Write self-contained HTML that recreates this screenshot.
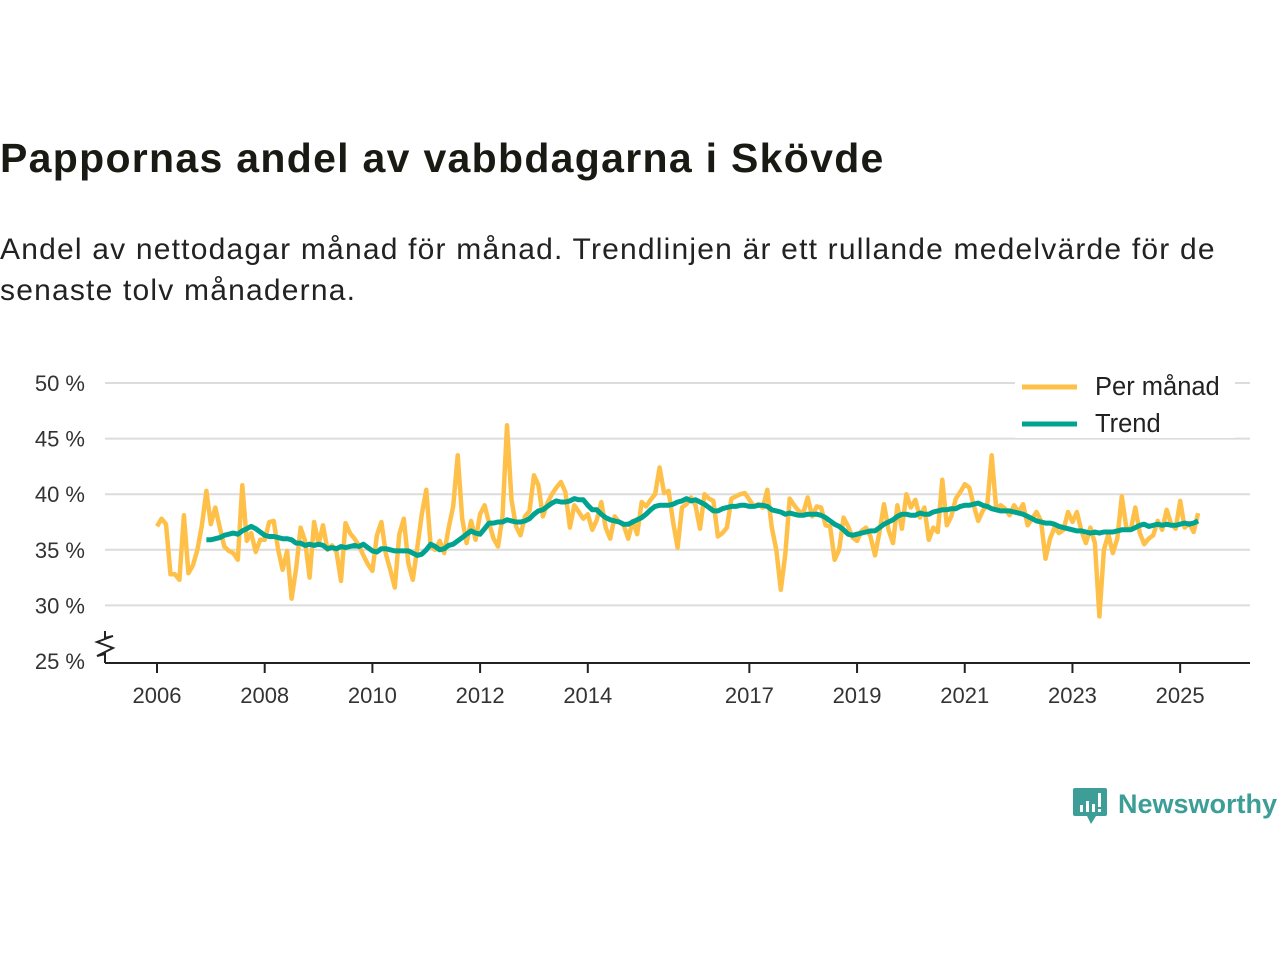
<!DOCTYPE html>
<html><head><meta charset="utf-8"><style>
body{margin:0;width:1280px;height:960px;background:#fff;font-family:"Liberation Sans",sans-serif;position:relative;overflow:hidden}
#title{position:absolute;left:0;top:135px;font-size:41px;letter-spacing:1.3px;font-weight:bold;color:#1a1a14;margin:0}
#sub{position:absolute;left:0;top:229px;font-size:30px;letter-spacing:1.2px;color:#222;line-height:41px;width:1250px}
svg{position:absolute;left:0;top:0}
</style></head><body>
<h1 id="title">Pappornas andel av vabbdagarna i Skövde</h1>
<div id="sub">Andel av nettodagar månad för månad. Trendlinjen är ett rullande medelvärde för de senaste tolv månaderna.</div>
<svg id="chart" width="1280" height="960"></svg>
<script>
const yTicks=[25,30,35,40,45,50];
const xTickYears=[2006,2008,2010,2012,2014,2017,2019,2021,2023,2025];
const monthly=[
37.1,37.8,37.3,32.8,32.8,32.3,38.1,32.9,33.6,35.0,37.2,40.3,
37.3,38.8,37.0,35.3,34.9,34.7,34.1,40.8,35.8,36.5,34.8,35.9,
35.9,37.5,37.6,35.0,33.2,34.9,30.6,33.3,37.0,35.8,32.5,37.5,
35.5,37.2,35.0,35.4,34.8,32.2,37.4,36.5,36.0,35.4,34.5,33.7,
33.1,36.3,37.5,34.6,33.2,31.6,36.4,37.8,33.8,32.3,35.2,38.2,
40.4,35.3,35.0,35.8,34.7,37.0,38.9,43.5,37.8,35.6,37.6,35.9,
38.2,39.0,37.4,36.0,35.3,38.0,46.2,39.5,37.1,36.3,38.0,38.5,
41.7,40.8,38.0,39.2,40.0,40.6,41.1,40.2,37.0,39.0,38.4,37.8,
38.2,36.8,37.7,39.3,37.0,36.0,38.0,37.5,37.2,36.0,37.6,36.4,
39.3,38.9,39.5,40.0,42.4,40.1,40.3,37.5,35.2,38.8,39.1,39.7,
39.0,36.9,40.0,39.6,39.4,36.2,36.5,37.0,39.6,39.8,40.0,40.1,
39.5,38.9,39.1,38.8,40.4,37.0,35.0,31.4,34.6,39.6,39.0,38.5,
38.3,39.7,38.0,38.9,38.8,37.2,37.1,34.1,35.0,37.9,37.1,36.1,
35.8,36.7,37.0,36.2,34.5,36.6,39.1,36.8,35.6,39.0,36.9,40.0,
38.8,39.5,37.9,38.8,35.9,37.0,36.6,41.3,37.2,38.0,39.6,40.2,
40.9,40.6,39.0,37.6,38.5,39.0,43.5,38.7,39.0,38.7,38.1,39.0,
38.4,39.1,37.2,37.8,38.4,37.6,34.2,36.0,37.0,36.5,36.8,38.4,
37.5,38.4,36.7,35.6,37.0,35.6,29.0,35.0,36.4,34.7,36.0,39.8,
37.0,36.8,38.8,36.5,35.5,36.0,36.3,37.6,36.8,38.6,37.3,36.9,
39.4,37.0,37.4,36.6,38.3];
const trendStartMonth=11; // months after 2006-01
const trend=[35.9,
35.9,36.0,36.1,36.3,36.4,36.5,36.4,36.7,36.9,37.1,36.9,36.6,
36.3,36.2,36.2,36.1,36.0,36.0,35.9,35.6,35.6,35.4,35.5,35.4,
35.5,35.4,35.1,35.2,35.1,35.3,35.2,35.3,35.4,35.3,35.5,35.2,
34.9,34.8,35.1,35.1,35.0,34.9,34.9,34.9,34.9,34.7,34.5,34.6,
35.0,35.5,35.3,35.0,35.1,35.4,35.5,35.8,36.1,36.4,36.7,36.5,
36.4,36.9,37.4,37.4,37.5,37.5,37.7,37.6,37.5,37.5,37.6,37.8,
38.2,38.5,38.6,38.9,39.2,39.4,39.3,39.3,39.4,39.6,39.5,39.5,
39.0,38.6,38.6,38.2,37.9,37.7,37.6,37.5,37.3,37.3,37.5,37.7,
37.9,38.2,38.6,38.9,39.0,39.0,39.0,39.1,39.3,39.4,39.6,39.4,
39.5,39.3,39.1,38.8,38.5,38.5,38.7,38.8,38.9,38.9,39.0,39.0,
38.9,38.9,39.0,39.0,38.9,38.6,38.5,38.4,38.2,38.3,38.2,38.1,
38.1,38.2,38.2,38.2,38.1,37.9,37.6,37.3,37.1,36.8,36.4,36.3,
36.4,36.5,36.6,36.7,36.7,37.0,37.3,37.5,37.7,38.0,38.2,38.2,
38.1,38.1,38.3,38.2,38.2,38.4,38.5,38.6,38.6,38.7,38.7,38.9,
39.0,39.0,39.1,39.2,39.0,38.9,38.7,38.6,38.5,38.5,38.5,38.4,
38.3,38.2,38.0,37.8,37.6,37.5,37.4,37.4,37.3,37.1,37.0,36.9,
36.8,36.7,36.7,36.6,36.5,36.6,36.5,36.6,36.6,36.6,36.7,36.8,
36.8,36.8,37.0,37.2,37.3,37.1,37.2,37.3,37.2,37.3,37.2,37.2,
37.3,37.4,37.3,37.4,37.6];

const NS='http://www.w3.org/2000/svg';
const svg=document.getElementById('chart');
const xs=t=>157+(t-2006)*53.85;
const ys=v=>661-(v-25)*11.12;
function mk(tag,attrs,parent){const e=document.createElementNS(NS,tag);for(const k in attrs)e.setAttribute(k,attrs[k]);(parent||svg).appendChild(e);return e;}

yTicks.forEach(v=>{
  if(v>25){const g=mk('line',{x1:105,x2:1250,y1:ys(v),y2:ys(v),stroke:'#dcdcdc','stroke-width':2});
  
  }
  const t=mk('text',{x:85,y:ys(v)+8,'text-anchor':'end','font-size':22,fill:'#333','font-family':'Liberation Sans, sans-serif'});
  t.textContent=v+' %';
  
  
});
const ax=mk('line',{x1:105,x2:1250,y1:663,y2:663,stroke:'#222','stroke-width':2});


const zz=mk('path',{d:'M105 663 L105 654 L97 656 L113 648 L97 642 L113 636 L105 638 L105 631',fill:'none',stroke:'#222','stroke-width':2});


xTickYears.forEach(y=>{
  mk('line',{x1:xs(y),x2:xs(y),y1:663,y2:673,stroke:'#222','stroke-width':2});
  const t=mk('text',{x:xs(y),y:703,'text-anchor':'middle','font-size':22,fill:'#333','font-family':'Liberation Sans, sans-serif'});
  t.textContent=y;
  
  
});
const mp=monthly.map((v,i)=>xs(2006+i/12).toFixed(1)+','+ys(v).toFixed(1)).join(' ');
const l1=mk('polyline',{points:mp,fill:'none',stroke:'#ffc04a','stroke-width':4.5,'stroke-linejoin':'round'});


const tp=trend.map((v,i)=>xs(2006+(i+trendStartMonth)/12).toFixed(1)+','+ys(v).toFixed(1)).join(' ');
const l2=mk('polyline',{points:tp,fill:'none',stroke:'#00a390','stroke-width':5,'stroke-linejoin':'round'});


const lg=mk('g',{});


mk('rect',{x:1015,y:370,width:220,height:68,fill:'#fff'},lg);
mk('line',{x1:1022,x2:1077,y1:387,y2:387,stroke:'#ffc04a','stroke-width':5},lg);
mk('line',{x1:1022,x2:1077,y1:424,y2:424,stroke:'#00a390','stroke-width':5},lg);
const a=mk('text',{x:1095,y:395,'font-size':25.5,fill:'#222','font-family':'Liberation Sans, sans-serif'},lg);a.textContent='Per månad';


const b=mk('text',{x:1095,y:432,'font-size':25.5,fill:'#222','font-family':'Liberation Sans, sans-serif'},lg);b.textContent='Trend';


const lo=mk('g',{});


mk('path',{d:'M1075 788 h30 a2 2 0 0 1 2 2 v24 a2 2 0 0 1 -2 2 h-9 l-5 8 l-4 -8 h-12 a2 2 0 0 1 -2 -2 v-24 a2 2 0 0 1 2 -2z',fill:'#3c9e96'},lo);
mk('rect',{x:1080,y:805,width:3,height:7,fill:'#fff'},lo);
mk('rect',{x:1086,y:801,width:3,height:11,fill:'#fff'},lo);
mk('rect',{x:1092,y:804,width:3,height:8,fill:'#fff'},lo);
mk('rect',{x:1098,y:793,width:3,height:14,fill:'#fff'},lo);
mk('rect',{x:1098,y:809,width:3,height:3,fill:'#fff'},lo);
const nt=mk('text',{x:1118,y:813,'font-size':27,'font-weight':'bold',fill:'#3c9e96','font-family':'Liberation Sans, sans-serif'},lo);nt.textContent='Newsworthy';
</script>
</body></html>
